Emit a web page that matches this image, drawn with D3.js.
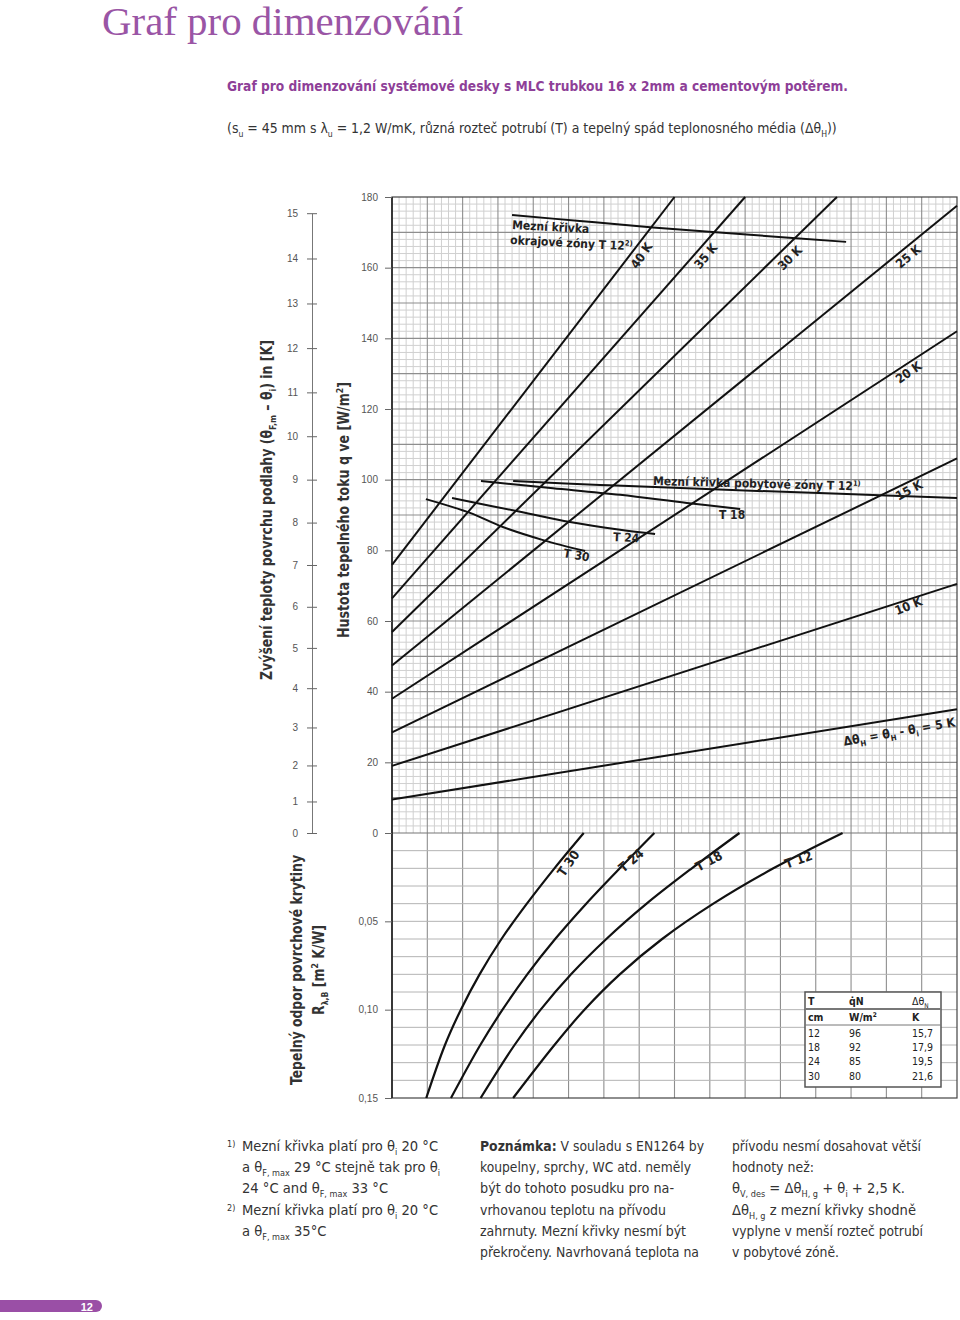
<!DOCTYPE html>
<html><head><meta charset="utf-8">
<script src="https://cdn.jsdelivr.net/npm/d3@7"></script>
<style>
body{margin:0;background:#fff;}
svg{display:block;}
</style></head><body>
<svg id="c" width="960" height="1320"></svg>
<script>
// ---------- DATA ----------
const deltaK      = [5, 10, 15, 20, 25, 30, 35, 40];           // ΔθH lines [K]
const lineStartQ  = [9.5, 19, 28.5, 38, 47.4, 56.9, 66.4, 75.9]; // q at left edge
const lineEndX    = [16, 16, 16, 16, 16, 12.6, 10.0, 8.0];       // end position (grid units)
const lineEndQ    = [35, 70.5, 106, 142, 177.5, 180, 180, 180];  // q at end
const qTicks = [0, 20, 40, 60, 80, 100, 120, 140, 160, 180];
const kTicks = [0,1,2,3,4,5,6,7,8,9,10,11,12,13,14,15];
const rTicks = [0.05, 0.10, 0.15];
// limit curves (x grid units, q W/m2)
const limitEdgeT12 = [[3.40,174.9],[5.32,173.2],[7.39,171.4],[10.14,169.3],[12.86,167.3]];
const limitT12 = [[3.43,99.6],[5.89,98.5],[8.72,97.4],[12.69,96.0],[16,94.8]];
const limitT18 = [[2.52,99.6],[4.56,97.6],[6.46,95.7],[8.35,93.4],[9.86,91.7]];
const limitT24 = [[1.70,94.8],[3.63,90.9],[5.04,88.0],[6.46,85.8],[7.45,84.6]];
const limitT30 = [[0.96,94.5],[2.21,90.6],[3.14,86.6],[4.28,82.9],[5.47,79.8]];
// lower chart curves (x grid units, R m2K/W)
const rT30 = [[5.43,0],[4.6,0.02],[3.82,0.04],[3.1,0.06],[2.48,0.08],[1.95,0.10],[1.5,0.12],[0.97,0.15]];
const rT24 = [[7.43,0],[6.45,0.02],[5.5,0.04],[4.62,0.06],[3.83,0.08],[3.13,0.10],[2.5,0.12],[1.67,0.15]];
const rT18 = [[9.84,0],[8.49,0.02],[7.21,0.04],[6.07,0.06],[5.07,0.08],[4.21,0.10],[3.47,0.12],[2.51,0.15]];
const rT12 = [[12.76,0],[10.8,0.02],[9.1,0.04],[7.65,0.06],[6.45,0.08],[5.45,0.10],[4.6,0.12],[3.43,0.15]];
// table
const tabT  = ["12","18","24","30"];
const tabQ  = ["96","92","85","80"];
const tabDT = ["15,7","17,9","19,5","21,6"];

// ---------- SETUP ----------
const COND = '"Liberation Sans Narrow","DejaVu Sans Condensed","Roboto Condensed",Roboto,sans-serif';
const SANS = '"Liberation Sans",Arial,sans-serif';
const svg = d3.select("#c");
const X0=392, X1=957, YT=197, Y0=833, YB=1098;
const x  = d3.scaleLinear().domain([0,16]).range([X0,X1]);
const yQ = d3.scaleLinear().domain([0,180]).range([Y0,YT]);
const yR = d3.scaleLinear().domain([0,0.15]).range([Y0,YB]);
const qAt15 = 8.92*Math.pow(15,1.1);
const yK = d3.scalePow().exponent(1.1).domain([0,15]).range([Y0, yQ(qAt15)]);

function rich(parent, px, py, segs, o={}) {
  const size = o.size||14;
  const t = parent.append("text").attr("x",px).attr("y",py)
    .attr("font-size", size).attr("fill", o.fill||"#333")
    .attr("font-family", o.family||COND).attr("font-weight", o.weight||"normal");
  if (o.anchor) t.attr("text-anchor", o.anchor);
  if (o.transform) t.attr("transform", o.transform);
  let shift = 0, hasScript = false;
  segs.forEach(s=>{
    if (typeof s === "string") s=[s,"n"];
    const ts = t.append("tspan").text(s[0]);
    let target = 0;
    if (s[1]==="sub") { target = size*0.28; ts.attr("font-size",size*0.62); hasScript = true; }
    if (s[1]==="sup") { target = -size*0.38; ts.attr("font-size",size*0.62); hasScript = true; }
    if (s[1]==="b") ts.attr("font-weight","bold");
    if (target !== shift) { ts.attr("dy", target-shift); shift = target; }
  });
  if (o.len && (!hasScript || o.force)) t.attr("textLength", o.len).attr("lengthAdjust","spacingAndGlyphs");
  return t;
}

// ---------- TITLES ----------
svg.append("text").attr("x",102).attr("y",35).text("Graf pro dimenzování")
  .attr("font-family",'"Liberation Serif","DejaVu Serif",serif').attr("font-size",40)
  .attr("fill","#9a55a5").attr("textLength",361).attr("lengthAdjust","spacingAndGlyphs");
rich(svg,227,91,["Graf pro dimenzování systémové desky s MLC trubkou 16 x 2mm a cementovým potěrem."],
  {size:14.5, weight:"bold", fill:"#8e3f98", len:621});
rich(svg,227,133,["(s",["u","sub"]," = 45 mm s λ",["u","sub"]," = 1,2 W/mK, různá rozteč potrubí (T) a tepelný spád teplonosného média (Δθ",["H","sub"],"))"],
  {size:13.9, fill:"#333"});

// ---------- GRID ----------
const grid = svg.append("g");
const minorX = d3.range(0,16.001,0.2).filter(v=>Math.abs(v-Math.round(v))>1e-6);
const minorQ = d3.range(0,180.001,2).filter(v=>v%10!==0);
grid.selectAll(".mx").data(minorX).join("line").attr("x1",d=>x(d)).attr("x2",d=>x(d)).attr("y1",YT).attr("y2",Y0).attr("stroke","#d0d0d0").attr("stroke-width",1);
grid.selectAll(".my").data(minorQ).join("line").attr("y1",d=>yQ(d)).attr("y2",d=>yQ(d)).attr("x1",X0).attr("x2",X1).attr("stroke","#d0d0d0").attr("stroke-width",1);
const majorX = d3.range(1,16);
const majorQ = d3.range(10,180,10);
grid.selectAll(".Mx").data(majorX).join("line").attr("x1",d=>x(d)).attr("x2",d=>x(d)).attr("y1",YT).attr("y2",YB).attr("stroke","#8e8e8e").attr("stroke-width",1.1);
grid.selectAll(".My").data(majorQ).join("line").attr("y1",d=>yQ(d)).attr("y2",d=>yQ(d)).attr("x1",X0).attr("x2",X1).attr("stroke","#8e8e8e").attr("stroke-width",1.1);
// lower grid
const lowR = d3.range(0.01,0.15,0.01);
grid.selectAll(".ry").data(lowR).join("line").attr("y1",d=>yR(d)).attr("y2",d=>yR(d)).attr("x1",X0).attr("x2",X1).attr("stroke","#b4b4b4").attr("stroke-width",1);
grid.append("line").attr("x1",X0).attr("x2",X1).attr("y1",Y0).attr("y2",Y0).attr("stroke","#777").attr("stroke-width",1.2);
// border
svg.append("rect").attr("x",X0).attr("y",YT).attr("width",X1-X0).attr("height",YB-YT).attr("fill","none").attr("stroke","#444").attr("stroke-width",1.2);
svg.append("line").attr("x1",X0).attr("x2",X0).attr("y1",YT).attr("y2",YB).attr("stroke","#222").attr("stroke-width",1.6);

// ---------- AXES ----------
const axQ = svg.append("g").attr("transform",`translate(${X0},0)`)
  .call(d3.axisLeft(yQ).tickValues(qTicks).tickSize(7).tickPadding(7).tickFormat(d3.format("d")));
const axR = svg.append("g").attr("transform",`translate(${X0},0)`)
  .call(d3.axisLeft(yR).tickValues(rTicks).tickSize(7).tickPadding(7).tickFormat(d=>d3.format(".2f")(d).replace(".",",")));
const axK = svg.append("g").attr("transform","translate(312,0)")
  .call(d3.axisLeft(yK).tickValues(kTicks).tickSize(5).tickSizeOuter(0).tickPadding(9).tickFormat(d3.format("d")));
axK.selectAll(".tick line").attr("x1",5);
[axQ,axR,axK].forEach(a=>{
  a.selectAll(".tick text").attr("font-family",SANS).attr("font-size",10).attr("fill","#555");
  a.selectAll(".tick line").attr("stroke","#666");
});
axQ.select(".domain").remove(); axR.select(".domain").remove();
axK.select(".domain").attr("stroke","#777");

// axis titles
rich(svg,0,0,["Zvýšení teploty povrchu podlahy (θ",["F,m","sub"]," – θ",["i","sub"],") in [K]"],
  {size:15, weight:"bold", anchor:"middle", transform:"translate(272,510) rotate(-90)", len:340, force:true});
rich(svg,0,0,["Hustota tepelného toku q ve [W/m",["2","sup"],"]"],
  {size:15, weight:"bold", anchor:"middle", transform:"translate(349,510) rotate(-90)", len:256, force:true});
rich(svg,0,0,["Tepelný odpor povrchové krytiny"],
  {size:15, weight:"bold", anchor:"middle", transform:"translate(302,970) rotate(-90)", len:230});
rich(svg,0,0,["R",["λ,B","sub"]," [m",["2","sup"]," K/W]"],
  {size:15, weight:"bold", anchor:"middle", transform:"translate(324,970) rotate(-90)", len:90, force:true});

// ---------- LINES ----------
const lineG = svg.append("g");
const lq = d3.line().x(d=>x(d[0])).y(d=>yQ(d[1]));
deltaK.forEach((k,i)=>{
  lineG.append("path").attr("d", lq([[0,lineStartQ[i]],[lineEndX[i],lineEndQ[i]]]))
    .attr("fill","none").attr("stroke","#111").attr("stroke-width",2);
});
const lc = d3.line().x(d=>x(d[0])).y(d=>yQ(d[1])).curve(d3.curveCatmullRom);
[limitEdgeT12,limitT12,limitT18,limitT24,limitT30].forEach(c=>{
  lineG.append("path").attr("d", lc(c)).attr("fill","none").attr("stroke","#111").attr("stroke-width",2);
});
const lr = d3.line().x(d=>x(d[0])).y(d=>yR(d[1])).curve(d3.curveCatmullRom);
[rT30,rT24,rT18,rT12].forEach(c=>{
  lineG.append("path").attr("d", lr(c)).attr("fill","none").attr("stroke","#111").attr("stroke-width",2.2);
});

// ---------- LABELS ----------
function lab(txt, px, py, rot, size=12.5) {
  const segs = Array.isArray(txt)?txt:[txt];
  return rich(svg,0,0,segs,{size:size, weight:"bold", fill:"#222", anchor:"middle", transform:`translate(${px},${py}) rotate(${rot})`});
}
lab("40 K",645,258,-55); lab("35 K",709,259,-50); lab("30 K",793,261,-45);
lab("25 K",911,260,-40); lab("20 K",911,376,-35); lab("15 K",911,494,-28); lab("10 K",910,610,-22);
lab(["Δθ",["H","sub"]," = θ",["H","sub"]," - θ",["i","sub"]," = 5 K"],900,736,-10,12.5);
rich(svg,512,229,["Mezní křivka"],{size:12,weight:"bold",fill:"#222",transform:"rotate(3,512,229)"});
rich(svg,510,244,["okrajové zóny  T 12",["2)","sup"]],{size:12,weight:"bold",fill:"#222",transform:"rotate(3,510,244)"});
rich(svg,653,485,["Mezní křivka pobytové zóny T 12",["1)","sup"]],{size:12,weight:"bold",fill:"#222",transform:"rotate(1.5,653,485)"});
rich(svg,719,519,["T 18"],{size:12,weight:"bold",fill:"#222"});
rich(svg,613,541,["T 24"],{size:12,weight:"bold",fill:"#222",transform:"rotate(3,613,541)"});
rich(svg,563,557,["T 30"],{size:12,weight:"bold",fill:"#222",transform:"rotate(10,563,557)"});
lab("T 30",572,866,-55,13); lab("T 24",634,864,-40,13); lab("T 18",711,865,-28,13); lab("T 12",800,864,-20,13);

// ---------- TABLE ----------
const tb = svg.append("g");
tb.append("rect").attr("x",805).attr("y",992).attr("width",136).attr("height",95).attr("fill","#fff").attr("stroke","#555").attr("stroke-width",1.5);
tb.append("line").attr("x1",805).attr("x2",941).attr("y1",1009).attr("y2",1009).attr("stroke","#777").attr("stroke-width",2);
tb.append("line").attr("x1",805).attr("x2",941).attr("y1",1025).attr("y2",1025).attr("stroke","#777").attr("stroke-width",1);
const tcol=[808,849,912];
rich(tb,tcol[0],1005,["T"],{size:10.5,weight:"bold",fill:"#222"});
rich(tb,tcol[1],1005,["q\u0307N"],{size:10.5,weight:"bold",fill:"#222"});
rich(tb,tcol[2],1005,["Δθ",["N","sub"]],{size:10.5,fill:"#222"});
rich(tb,tcol[0],1021,["cm"],{size:10.5,weight:"bold",fill:"#222"});
rich(tb,tcol[1],1021,["W/m",["2","sup"]],{size:10.5,weight:"bold",fill:"#222"});
rich(tb,tcol[2],1021,["K"],{size:10.5,weight:"bold",fill:"#222"});
tabT.forEach((t,i)=>{
  const yy=1037+i*14.2;
  rich(tb,tcol[0],yy,[t],{size:10.5,fill:"#222"});
  rich(tb,tcol[1],yy,[tabQ[i]],{size:10.5,fill:"#222"});
  rich(tb,tcol[2],yy,[tabDT[i]],{size:10.5,fill:"#222"});
});

// ---------- FOOTNOTES ----------
const fn = svg.append("g");
const LH=21.2, FY=1151, FS=14.6;
rich(fn,227,FY-4,["1)"],{size:9});
rich(fn,227,FY+3*LH-4,["2)"],{size:9});
const c1=[
 [["Mezní křivka platí pro θ",["i","sub"]," 20 °C"],191],
 [["a θ",["F, max","sub"]," 29 °C stejně tak pro θ",["i","sub"]],190],
 [["24 °C and θ",["F, max","sub"]," 33 °C"],142],
 [["Mezní křivka platí pro θ",["i","sub"]," 20 °C"],191],
 [["a θ",["F, max","sub"]," 35°C"],83]];
c1.forEach((l,i)=>rich(fn,242,FY+i*LH,l[0],{size:FS,len:l[1]}));
const c2=[
 [[["Poznámka:","b"]," V souladu s EN1264 by"],224],
 [["koupelny, sprchy, WC atd. neměly"],211],
 [["být do tohoto posudku pro na-"],194],
 [["vrhovanou teplotu na přívodu"],186],
 [["zahrnuty. Mezní křivky nesmí být"],206],
 [["překročeny. Navrhovaná teplota na"],219]];
c2.forEach((l,i)=>rich(fn,480,FY+i*LH,l[0],{size:FS,len:l[1]}));
const c3=[
 [["přívodu nesmí dosahovat větší"],189],
 [["hodnoty než:"],82],
 [["θ",["V, des","sub"]," = Δθ",["H, g","sub"]," + θ",["i","sub"]," + 2,5 K."],161],
 [["Δθ",["H, g","sub"]," z mezní křivky shodně"],176],
 [["vyplyne v menší rozteč potrubí"],191],
 [["v pobytové zóně."],107]];
c3.forEach((l,i)=>rich(fn,732,FY+i*LH,l[0],{size:FS,len:l[1]}));

// ---------- PAGE NUMBER ----------
svg.append("path").attr("d","M0,1300 H96 A6,6 0 0 1 96,1312 H0 Z").attr("fill","#9a4fa6");
svg.append("text").attr("x",93).attr("y",1310.5).attr("text-anchor","end").text("12")
  .attr("font-family",SANS).attr("font-weight","bold").attr("font-size",11).attr("fill","#fff");
</script>
</body></html>
